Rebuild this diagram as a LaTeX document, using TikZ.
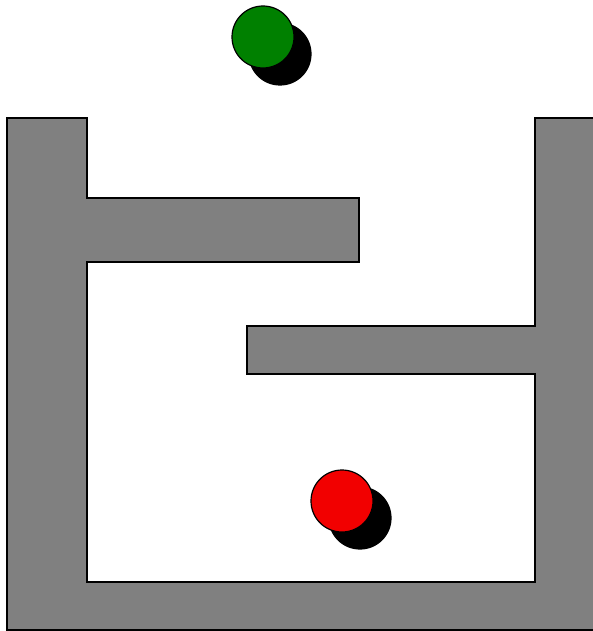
\documentclass[tikz,border=0pt]{standalone}
\usepackage{xcolor}
\usepackage{tikz}

\begin{document}
\begin{tikzpicture}[x=1pt,y=-1pt,line width=1.2pt]
  \useasboundingbox (0,0) rectangle (593,631);
  \draw[fill=gray] (7,118) -- (87,118) -- (87,198) -- (359,198) -- (359,262) -- (87,262) -- (87,582) -- (535,582) -- (535,374) -- (247,374) -- (247,326) -- (535,326) -- (535,118) -- (600,118) -- (600,630) -- (7,630) -- cycle;
  \node[circle,draw,fill=black,inner sep=0pt,minimum size=62pt] (goalshadow) at (280,54) {};
  \node[circle,draw,fill=green!50!black,inner sep=0pt,minimum size=62pt] (goal) at (263,37) {};
  \node[circle,draw,fill=black,inner sep=0pt,minimum size=62pt] (agentshadow) at (360,518) {};
  \node[circle,draw,fill=red!95!black,inner sep=0pt,minimum size=62pt] (agent) at (342,501) {};
\end{tikzpicture}
\end{document}
